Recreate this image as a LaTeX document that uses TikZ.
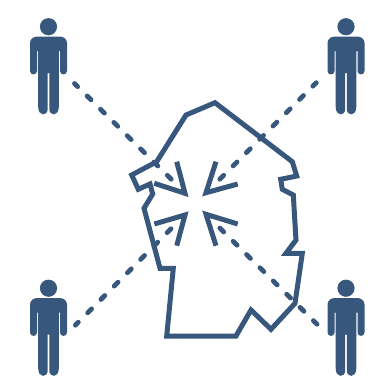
\documentclass[tikz,border=0pt]{standalone}
\definecolor{navy}{RGB}{55,87,124}
\tikzset{
  person/.pic={
    \fill[navy] (0,-18.3) circle (8.6);
    \fill[navy] (-18.5,-2) .. controls (-18.5,-6) and (-15,-8.5) .. (-11,-8.5) -- (11,-8.5) .. controls (15,-8.5) and (18.5,-6) .. (18.5,-2)
      -- (18.5,26) .. controls (18.5,30.5) and (11.5,30.5) .. (11.5,26) -- (11.5,6) -- (10.3,6) -- (10.3,62) .. controls (10.3,71.5) and (1,71.5) .. (0.8,64)
      -- (0.8,28) -- (-0.8,28) -- (-0.8,64) .. controls (-1,71.5) and (-10.3,71.5) .. (-10.3,62) -- (-10.3,6) -- (-11.5,6) -- (-11.5,26)
      .. controls (-11.5,30.5) and (-18.5,30.5) .. (-18.5,26) -- cycle;
  },
  outline/.style={draw=navy,line width=5pt,line join=miter},
  chevron/.style={draw=navy,line width=5pt,line join=miter,line cap=butt},
  dashline/.style={draw=navy,line width=4.8pt,line cap=round,dash pattern=on 5.5pt off 13.3pt}
}
\begin{document}
\begin{tikzpicture}[x=1pt,y=-1pt]
\useasboundingbox (0,0) rectangle (385,375);
\begin{scope}
\clip (0,0) rectangle (385,375);
\pic at (48.5,45) {person};
\pic at (346,45) {person};
\pic at (48.5,306.5) {person};
\pic at (346,306.5) {person};
\end{scope}
\coordinate (tlS) at (74.5,83.5);
\coordinate (tlE) at (171.2,179.2);
\coordinate (trS) at (316.3,82.7);
\coordinate (trE) at (219.8,179.2);
\coordinate (blS) at (75.4,325.2);
\coordinate (blE) at (171,228.8);
\coordinate (brS) at (317,324.2);
\coordinate (brE) at (219.8,228.1);
\draw[dashline] (tlE) -- (tlS);
\draw[dashline] (trE) -- (trS);
\draw[dashline] (blE) -- (blS);
\draw[dashline] (brE) -- (brS);
\draw[outline] (215,102.7) -- (186,115) -- (156.7,161.7) -- (131.7,175) -- (138.3,189.3) -- (150,184) -- (152.7,194) -- (144,208.3) -- (160,268.3) -- (173.3,268.3) -- (166.7,336) -- (236,336) -- (251,310) -- (271,329.3) -- (295,303.3) -- (302.3,253.3) -- (286,253.3) -- (296,240) -- (293.3,195) -- (282.3,189.3) -- (280.7,179.3) -- (296.7,176) -- (292.3,161.7) -- cycle;
\draw[chevron] (176.7,161.7) -- (185,193.3) -- (154.3,183.3);
\draw[chevron] (216,161.7) -- (206,192.7) -- (237.7,184);
\draw[chevron] (154.3,224) -- (185,215) -- (176.7,245.7);
\draw[chevron] (237.7,224) -- (206,214.3) -- (216,245.7);
\end{tikzpicture}
\end{document}
